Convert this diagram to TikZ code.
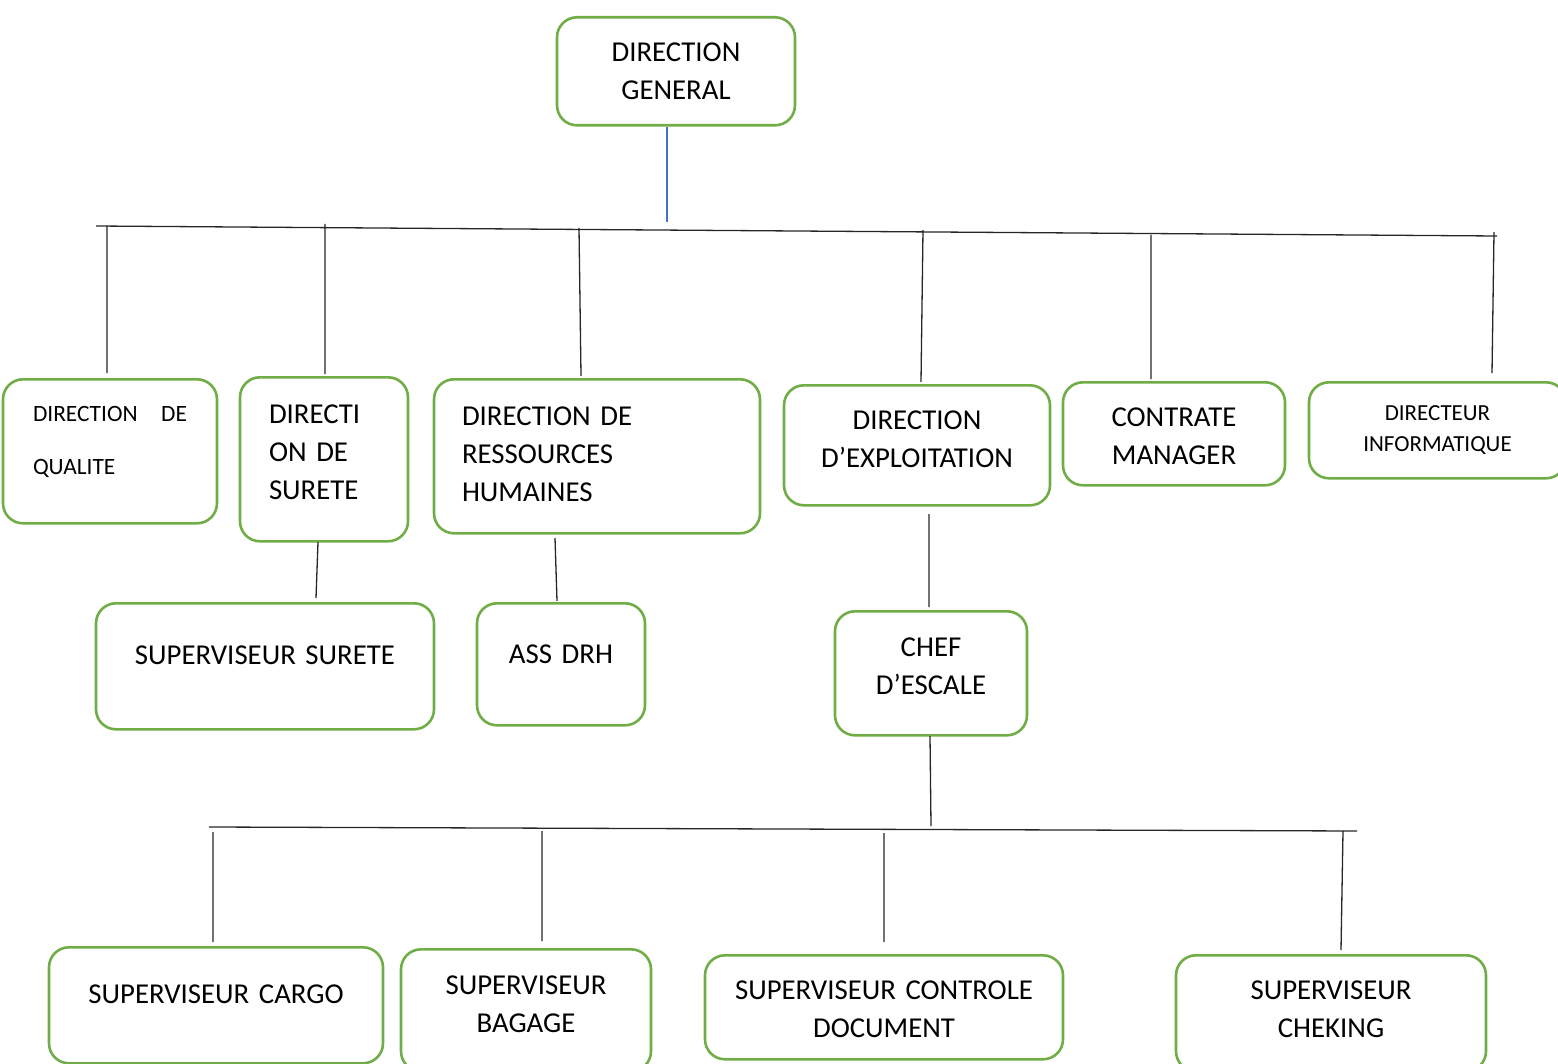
\documentclass[tikz,border=0pt]{standalone}
\usepackage{fontspec}
\setmainfont{Carlito}
\definecolor{boxgreen}{HTML}{70AD47}
\definecolor{linkblue}{HTML}{4472C4}
\tikzset{
	orgbox/.style={draw=boxgreen, line width=1.3pt, rounded corners=10pt, anchor=north,
		inner xsep=0pt, inner ysep=0pt, align=center, font=\fontsize{14.4}{19}\selectfont},
	smalltext/.style={font=\fontsize{11.5}{15.5}\selectfont},
	link/.style={line width=0.65pt, black!85},
}
% box from (x0,y0) to (x1,y1), first baseline at y
\newcommand\unitbox[8]{%
	\pgfmathsetmacro\bw{(#4-#2)/2}%
	\pgfmathsetmacro\bh{(#6-#3)/2}%
	\pgfmathsetmacro\bd{(#5-#6)/2}%
	\node[orgbox, minimum width=\bw pt, text width=\bw pt, text height=\bh pt, text depth=\bd pt, #7] (#1) at ({(#2+#4)/2},#3) {#8};%
}
\begin{document}
\begin{tikzpicture}[x=0.5pt, y=-0.5pt, line join=round]
	\clip (0,0) rectangle (1558,1064);
	% boxes
	\unitbox{gen}{557}{16}{795}{124}{60}{}{DIRECTION\\GENERAL}
	\unitbox{qual}{3}{378}{217}{522}{420}{text width=77pt, align=left, font=\fontsize{11.7}{26.5}\selectfont}{DIRECTION\hfill DE\\QUALITE}
	\unitbox{sur}{240}{376}{408}{540}{422}{text width=55pt, align=left}{DIRECTI\\ON DE\\SURETE}
	\unitbox{rh}{434}{378}{760}{532}{424}{text width=135pt, align=left}{DIRECTION DE\\RESSOURCES\\HUMAINES}
	\unitbox{exp}{784}{384}{1050}{504}{428}{}{DIRECTION\\D’EXPLOITATION}
	\unitbox{con}{1063}{381}{1285}{484}{425}{}{CONTRATE\\MANAGER}
	\unitbox{info}{1309}{381}{1566}{477}{419.5}{smalltext}{DIRECTEUR\\INFORMATIQUE}
	\unitbox{ssur}{96}{602}{434}{728}{663}{}{SUPERVISEUR SURETE}
	\unitbox{drh}{477}{602}{645}{724}{662}{}{ASS DRH}
	\unitbox{chef}{835}{610}{1027}{734}{655}{}{CHEF\\D’ESCALE}
	\unitbox{cargo}{49}{946}{383}{1062}{1002}{}{SUPERVISEUR CARGO}
	\unitbox{bag}{401}{948}{651}{1070}{993}{}{SUPERVISEUR\\BAGAGE}
	\unitbox{doc}{705}{954}{1063}{1058}{998}{}{SUPERVISEUR CONTROLE\\DOCUMENT}
	\unitbox{chk}{1176}{954}{1486}{1070}{998}{}{SUPERVISEUR\\CHEKING}
	% connector ends
	\path
	(667,127) coordinate (G1)
	(667,222) coordinate (G2)
	(96,226) coordinate (L1)
	(1497,236) coordinate (R1)
	(107,227) coordinate (Q1)
	(107,373) coordinate (Q2)
	(325,224) coordinate (S1)
	(325,374) coordinate (S2)
	(579,228) coordinate (H1)
	(581,376) coordinate (H2)
	(923,230) coordinate (E1)
	(921,382) coordinate (E2)
	(1151,235) coordinate (C1)
	(1151,379) coordinate (C2)
	(1494,232) coordinate (I1)
	(1492,373) coordinate (I2)
	(318,542) coordinate (S3)
	(316,598) coordinate (S4)
	(555,538) coordinate (H3)
	(557,601) coordinate (H4)
	(929,514) coordinate (E3)
	(929,607) coordinate (E4)
	(930,736) coordinate (K1)
	(931,826) coordinate (K2)
	(209,827) coordinate (L2)
	(1357,831) coordinate (R2)
	(213,832) coordinate (B1)
	(213,942) coordinate (B2)
	(542,831) coordinate (B3)
	(542,941) coordinate (B4)
	(884,833) coordinate (B5)
	(884,942) coordinate (B6)
	(1343,831) coordinate (B7)
	(1341,950) coordinate (B8)
	;
	\draw[line width=0.65pt, linkblue] (G1)--(G2);
	\draw[link] (L1)--(R1) (Q1)--(Q2) (S1)--(S2) (H1)--(H2) (E1)--(E2) (C1)--(C2) (I1)--(I2);
	\draw[link] (S3)--(S4) (H3)--(H4) (E3)--(E4) (K1)--(K2);
	\draw[link] (L2)--(R2) (B1)--(B2) (B3)--(B4) (B5)--(B6) (B7)--(B8);
\end{tikzpicture}
\end{document}
